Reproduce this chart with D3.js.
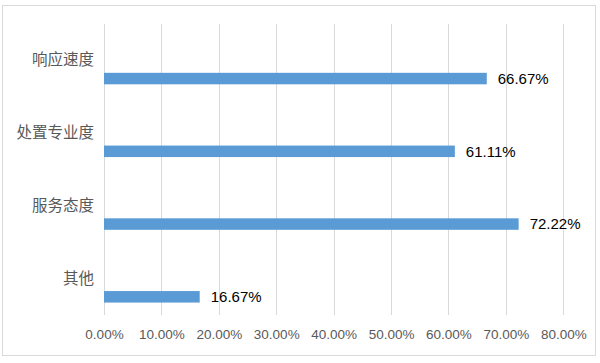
<!DOCTYPE html>
<html>
<head>
<meta charset="utf-8">
<script src="https://cdn.jsdelivr.net/npm/d3@7"></script>
<style>
  body { margin: 0; background: #fff; }
  svg { display: block; }
</style>
</head>
<body>
<div id="chart"></div>
<script>
var svgWidth = 600;
var svgHeight = 363;

// data
var categories = ["响应速度", "处置专业度", "服务态度", "其他"];
var values = [66.67, 61.11, 72.22, 16.67];
var tickValues = [0, 10, 20, 30, 40, 50, 60, 70, 80];

var plot = { left: 104, right: 563.3, top: 24, bottom: 315 };

var svg = d3.select("#chart")
  .append("svg")
  .attr("width", svgWidth)
  .attr("height", svgHeight);

// outer frame
svg.append("rect")
  .attr("x", 2.5)
  .attr("y", 5.5)
  .attr("width", 593)
  .attr("height", 350)
  .attr("fill", "#fff")
  .attr("stroke", "#d9d9d9")
  .attr("stroke-width", 1);

var xScale = d3.scaleLinear()
  .domain([0, 80])
  .range([plot.left, plot.right]);

var yScale = d3.scaleBand()
  .domain(categories)
  .range([plot.top, plot.bottom]);

var bw = yScale.bandwidth();
var barH = 11.5;

// gridlines
svg.append("g")
  .selectAll("line")
  .data(tickValues)
  .enter()
  .append("line")
  .attr("x1", d => Math.round(xScale(d)) + 0.5)
  .attr("x2", d => Math.round(xScale(d)) + 0.5)
  .attr("y1", plot.top)
  .attr("y2", plot.bottom)
  .attr("stroke", "#d9d9d9")
  .attr("stroke-width", 1);

// x axis labels
var xAxis = d3.axisBottom(xScale)
  .tickValues(tickValues)
  .tickSize(0)
  .tickPadding(0)
  .tickFormat(d => d.toFixed(2) + "%");

var xg = svg.append("g")
  .attr("transform", `translate(0, ${plot.bottom + 14})`)
  .call(xAxis);
xg.select(".domain").remove();
xg.selectAll("text")
  .attr("fill", "#595959")
  .style("font-family", "'Liberation Sans', Arial, sans-serif")
  .style("font-size", "13.5px");

// category labels
var yAxis = d3.axisLeft(yScale).tickSize(0).tickPadding(0);
var yg = svg.append("g")
  .attr("transform", `translate(${plot.left - 10}, 0)`)
  .call(yAxis);
yg.select(".domain").remove();
yg.selectAll("text")
  .attr("fill", "#595959")
  .style("font-family", "'Noto Sans CJK SC', sans-serif")
  .style("font-size", "15.5px");

// bars (sit in the lower half of each band)
svg.append("g")
  .selectAll("rect")
  .data(values)
  .enter()
  .append("rect")
  .attr("x", xScale(0))
  .attr("y", (d, i) => yScale(categories[i]) + bw * 0.75 - barH / 2)
  .attr("width", d => xScale(d) - xScale(0))
  .attr("height", barH)
  .attr("fill", "#5b9bd5");

// value labels
svg.append("g")
  .selectAll("text")
  .data(values)
  .enter()
  .append("text")
  .attr("x", d => xScale(d) + 11)
  .attr("y", (d, i) => yScale(categories[i]) + bw * 0.75)
  .attr("dy", "0.36em")
  .attr("fill", "#000")
  .style("font-family", "'Liberation Sans', Arial, sans-serif")
  .style("font-size", "15px")
  .text(d => d.toFixed(2) + "%");
</script>
</body>
</html>
